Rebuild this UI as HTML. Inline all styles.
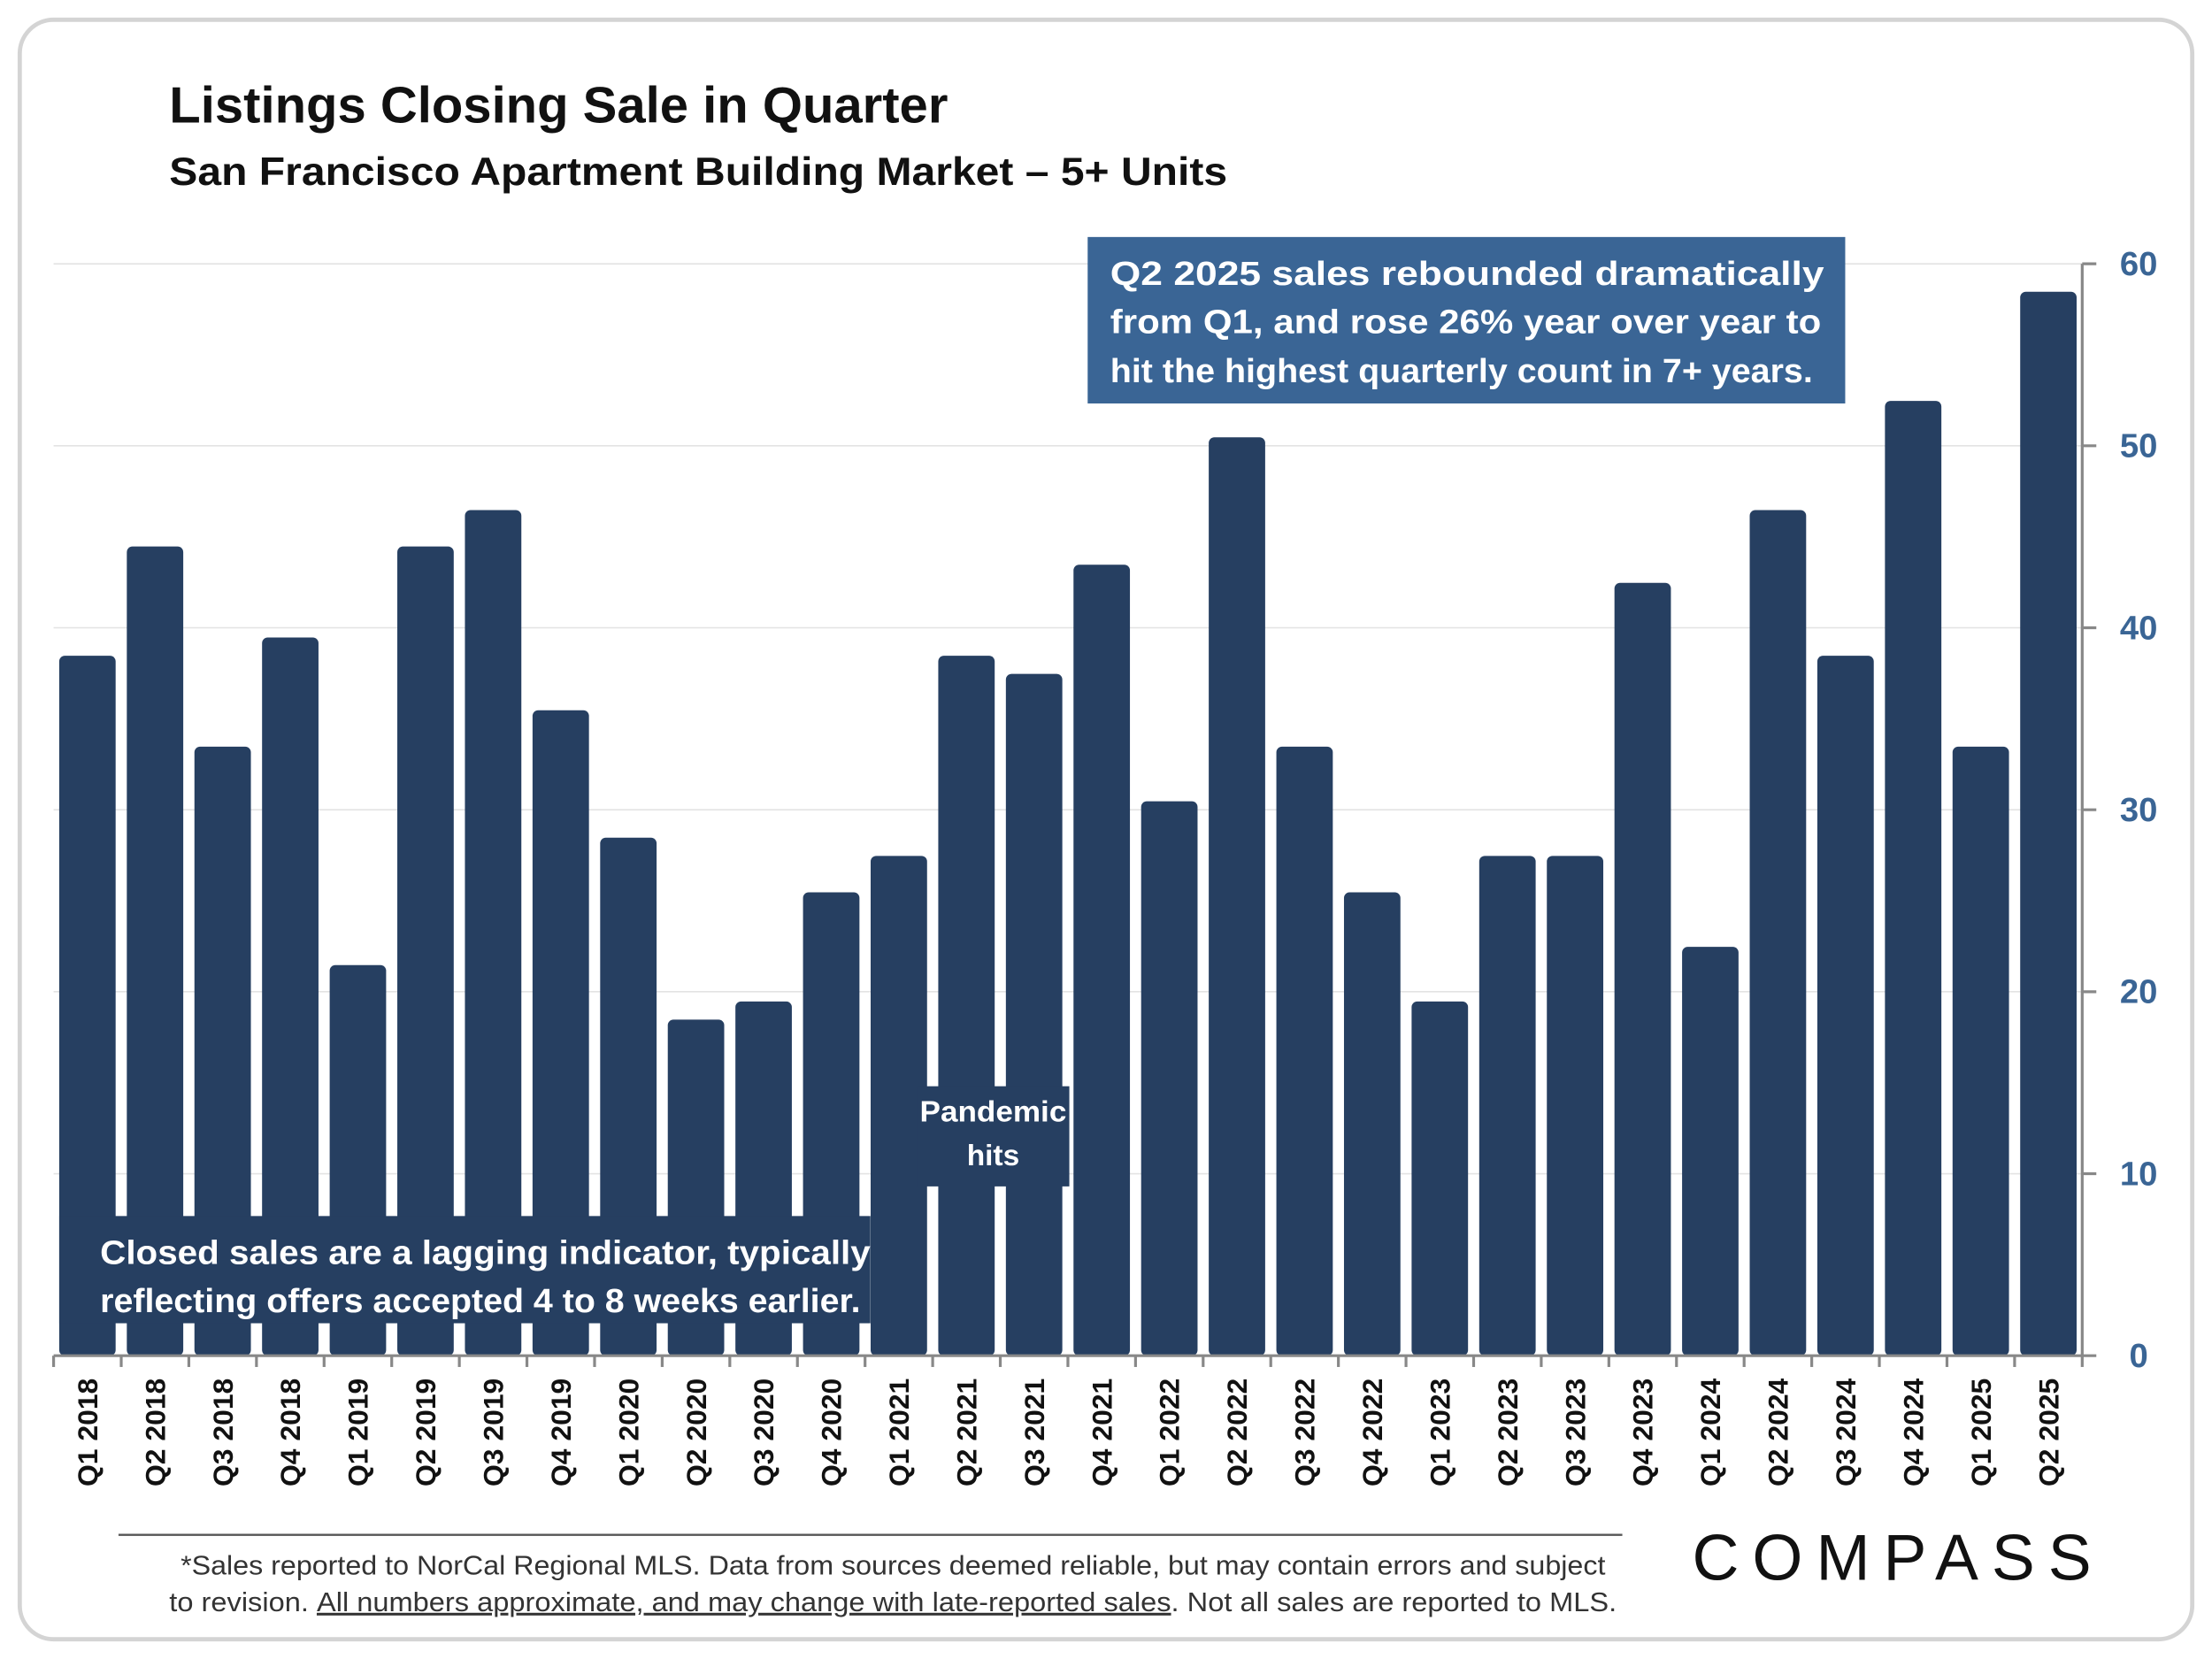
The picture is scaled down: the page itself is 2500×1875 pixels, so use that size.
<!DOCTYPE html>
<html><head><meta charset="utf-8"><style>
html,body{margin:0;padding:0;background:#fff;}
svg{display:block;font-family:"Liberation Sans",Calibri,sans-serif;}
</style></head><body>
<svg id="chart" width="2500" height="1875" viewBox="0 0 1568 1176" xmlns="http://www.w3.org/2000/svg">
<rect x="14" y="14" width="1540" height="1148" rx="24" fill="#fff" stroke="#d4d4d4" stroke-width="3"/>
<text x="120" y="87" font-size="36" font-weight="bold" fill="#111" textLength="552" lengthAdjust="spacingAndGlyphs">Listings Closing Sale in Quarter</text>
<text x="120" y="131" font-size="28" font-weight="bold" fill="#111" textLength="750" lengthAdjust="spacingAndGlyphs">San Francisco Apartment Building Market – 5+ Units</text>
<g id="grid"></g>
<g id="bars"></g>
<g id="axes"></g>
<g>
<rect x="650" y="770" width="108" height="71" fill="#263f61"/>
<text x="704" y="795" font-size="21" font-weight="bold" fill="#fff" text-anchor="middle" textLength="104" lengthAdjust="spacingAndGlyphs">Pandemic</text>
<text x="704" y="826" font-size="21" font-weight="bold" fill="#fff" text-anchor="middle">hits</text>
</g>
<g>
<rect x="42" y="862" width="575" height="76" fill="#263f61"/>
<text x="71" y="896" font-size="24" font-weight="bold" fill="#fff" textLength="546" lengthAdjust="spacingAndGlyphs">Closed sales are a lagging indicator, typically</text>
<text x="71" y="930" font-size="24" font-weight="bold" fill="#fff" textLength="539" lengthAdjust="spacingAndGlyphs">reflecting offers accepted 4 to 8 weeks earlier.</text>
</g>
<g>
<rect x="771" y="168" width="537" height="118" fill="#3a6595"/>
<text x="787" y="202" font-size="24" font-weight="bold" fill="#fff" textLength="506" lengthAdjust="spacingAndGlyphs">Q2 2025 sales rebounded dramatically</text>
<text x="787" y="236" font-size="24" font-weight="bold" fill="#fff" textLength="504" lengthAdjust="spacingAndGlyphs">from Q1, and rose 26% year over year to</text>
<text x="787" y="271" font-size="24" font-weight="bold" fill="#fff" textLength="498" lengthAdjust="spacingAndGlyphs">hit the highest quarterly count in 7+ years.</text>
</g>
<line x1="84" y1="1088" x2="1150" y2="1088" stroke="#555" stroke-width="1.5"/>
<text x="633" y="1116" font-size="19" fill="#333" text-anchor="middle" textLength="1010" lengthAdjust="spacingAndGlyphs">*Sales reported to NorCal Regional MLS. Data from sources deemed reliable, but may contain errors and subject</text>
<text x="633" y="1142" font-size="19" fill="#333" text-anchor="middle" textLength="1026" lengthAdjust="spacingAndGlyphs">to revision. <tspan text-decoration="underline">All numbers approximate, and may change with late-reported sales</tspan>. Not all sales are reported to MLS.</text>
<text x="1341" y="1120" font-size="46" fill="#111" text-anchor="middle" textLength="283" lengthAdjust="spacing">COMPASS</text>
</svg>
<script>
const categories=["Q1 2018","Q2 2018","Q3 2018","Q4 2018","Q1 2019","Q2 2019","Q3 2019","Q4 2019","Q1 2020","Q2 2020","Q3 2020","Q4 2020","Q1 2021","Q2 2021","Q3 2021","Q4 2021","Q1 2022","Q2 2022","Q3 2022","Q4 2022","Q1 2023","Q2 2023","Q3 2023","Q4 2023","Q1 2024","Q2 2024","Q3 2024","Q4 2024","Q1 2025","Q2 2025"];
const sales=[38,44,33,39,21,44,46,35,28,18,19,25,27,38,37,43,30,50,33,25,19,27,27,42,22,46,38,52,33,58];
const yTicks=[0,10,20,30,40,50,60];
const NS="http://www.w3.org/2000/svg";
const L=38,R=1476,Y0=961,Y60=187;
const step=(R-L)/categories.length;
function x(i){return L+step*i+step/2;}
function y(v){return Y0-(v/60)*(Y0-Y60);}
function mk(t,a,p){const e=document.createElementNS(NS,t);for(const k in a)e.setAttribute(k,a[k]);p.appendChild(e);return e;}
const grid=document.getElementById('grid'),bars=document.getElementById('bars'),axes=document.getElementById('axes');
yTicks.forEach(v=>{
 if(v>0){const g=mk('line',{x1:L,x2:R,y1:y(v),y2:y(v),stroke:'#e3e3e3','stroke-width':1},grid);
 
 }
 const t=mk('line',{x1:R,x2:R+10,y1:y(v),y2:y(v),stroke:'#888','stroke-width':2},axes);
 
 
 const lb=mk('text',{x:R+40,y:y(v)+8,'font-size':24,'font-weight':'bold',fill:'#3a6595','text-anchor':'middle'},axes);
 lb.textContent=v;
 
 
});
sales.forEach((v,i)=>{
 const bw=40,top=y(v)-6;
 const b=mk('rect',{x:x(i)-bw/2,y:top,width:bw,height:Y0-top,rx:4,fill:'#263f61'},bars);
 
 
});
const ax=mk('line',{x1:R,x2:R,y1:Y60,y2:Y0,stroke:'#888','stroke-width':2},axes);


const xa=mk('line',{x1:L,x2:R,y1:Y0,y2:Y0,stroke:'#888','stroke-width':2},axes);


for(let i=0;i<=categories.length;i++){
 const t=mk('line',{x1:L+step*i,x2:L+step*i,y1:Y0,y2:Y0+8,stroke:'#888','stroke-width':2},axes);
 
 
}
categories.forEach((c,i)=>{
 const t=mk('text',{x:0,y:0,'font-size':20,'font-weight':'bold',fill:'#111','text-anchor':'end',transform:`translate(${x(i)+7},${Y0+16}) rotate(-90)`},axes);
 t.textContent=c;
 
 
});
</script>
</body></html>
